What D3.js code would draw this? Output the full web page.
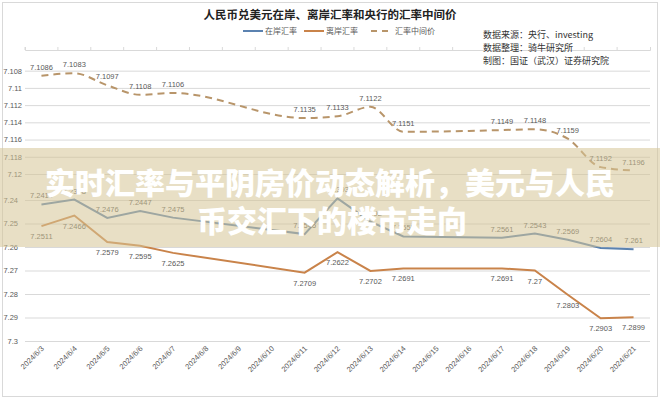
<!DOCTYPE html>
<html>
<head>
<meta charset="utf-8">
<script src="https://cdn.jsdelivr.net/npm/d3@7"></script>
<style>
  body { margin: 0; background: #fff; }
  svg { display: block; font-family: "Liberation Sans", Arial, sans-serif; }
  .cjk { font-family: "Noto Sans CJK SC", sans-serif; }
</style>
</head>
<body>
<div id="chart"></div>
<script>
// data
const dates = ['2024/6/3', '2024/6/4', '2024/6/5', '2024/6/6', '2024/6/7', '2024/6/8', '2024/6/9',
  '2024/6/10', '2024/6/11', '2024/6/12', '2024/6/13', '2024/6/14', '2024/6/15', '2024/6/16',
  '2024/6/17', '2024/6/18', '2024/6/19', '2024/6/20', '2024/6/21'];
const onshore = [7.2419, 7.2398, 7.2476, 7.2447, 7.2475, null, null, null, 7.2545, 7.2393, 7.2492,
  7.2555, null, null, 7.2561, 7.2543, 7.2569, 7.2604, 7.261];
const offshore = [7.2511, 7.2466, 7.2579, 7.2595, 7.2625, null, null, null, 7.2709, 7.2622, 7.2702,
  7.2691, null, null, 7.2691, 7.27, 7.2803, 7.2903, 7.2899];
const centralParity = [7.1086, 7.1083, 7.1097, 7.1108, 7.1106, null, null, null, 7.1135, 7.1133, 7.1122,
  7.1151, null, null, 7.1149, 7.1148, 7.1159, 7.1192, 7.1196];
const topTicks = [7.108, 7.11, 7.112, 7.114, 7.116, 7.118, 7.12];
const bottomTicks = [7.24, 7.25, 7.26, 7.27, 7.28, 7.29, 7.3];
const legendItems = ['在岸汇率', '离岸汇率', '汇率中间价'];
const notes = ['数据来源：央行、investing', '数据整理：骑牛研究所', '制图：国证（武汉）证券研究院'];
const title = '人民币兑美元在岸、离岸汇率和央行的汇率中间价';
const banner = ['实时汇率与平阴房价动态解析，美元与人民', '币交汇下的楼市走向'];

const width = 660, height = 399;
const colors = {onshore: '#5b82b0', offshore: '#c9834a', parity: '#b8956a'};
const textColor = '#595959';

const svg = d3.select('#chart').append('svg')
  .attr('width', width)
  .attr('height', height);

svg.append('rect')
  .attr('x', 2.5).attr('y', 2.5)
  .attr('width', width - 5).attr('height', height - 5)
  .attr('fill', 'none')
  .attr('stroke', '#d9d9d9');

const x = d3.scaleBand().domain(dates).range([25, 650]);
const cx = d => x(d) + x.bandwidth() / 2;

// two value panels, both reversed (values grow downwards)
const yTop = d3.scaleLinear().domain([7.1056, 7.12]).range([50, 174]);
const yBottom = d3.scaleLinear().domain([7.24, 7.30]).range([200, 341]);

function styleAxis(g) {
  g.select('.domain').remove();
  g.selectAll('.tick line').attr('stroke', '#d9d9d9');
  g.selectAll('.tick text').attr('fill', textColor).attr('font-size', 7.5);
}

svg.append('g')
  .attr('transform', 'translate(25,0)')
  .call(d3.axisLeft(yTop).tickValues(topTicks).tickSize(-625).tickPadding(3).tickFormat(d => String(d)))
  .call(styleAxis);

svg.append('g')
  .attr('transform', 'translate(25,0)')
  .call(d3.axisLeft(yBottom).tickValues(bottomTicks).tickSize(-625).tickPadding(7).tickFormat(d => String(d)))
  .call(styleAxis);

// category axis of the upper panel sits on top
const topAxis = svg.append('g')
  .attr('transform', `translate(0,${yTop(7.1056)})`)
  .call(d3.axisTop(x).tickSize(3).tickFormat(''));
topAxis.select('.domain').attr('stroke', '#d9d9d9');
topAxis.selectAll('.tick line').attr('stroke', '#d9d9d9')
  .attr('transform', `translate(${-x.bandwidth() / 2},0)`);

const xAxis = svg.append('g')
  .attr('transform', `translate(0,${yBottom(7.3)})`)
  .call(d3.axisBottom(x).tickSize(0).tickPadding(0));
xAxis.select('.domain').remove();
xAxis.selectAll('.tick text')
  .attr('fill', textColor)
  .attr('font-size', 7.5)
  .attr('text-anchor', 'end')
  .attr('dy', 0)
  .attr('transform', 'translate(3,8) rotate(-45)');

function drawSeries(values, y, color, dashed, labelBelow, curve) {
  const pts = values.map((v, i) => ({d: dates[i], v})).filter(p => p.v !== null);
  const line = d3.line().x(p => cx(p.d)).y(p => y(p.v)).curve(curve);
  svg.append('path')
    .datum(pts)
    .attr('d', line)
    .attr('fill', 'none')
    .attr('stroke', color)
    .attr('stroke-width', 2)
    .attr('stroke-dasharray', dashed ? '7,5' : null);
  svg.append('g').selectAll('text')
    .data(pts)
    .join('text')
    .attr('x', p => cx(p.d))
    .attr('y', p => y(p.v) + (labelBelow ? 13 : -6))
    .attr('text-anchor', 'middle')
    .attr('font-size', 7.5)
    .attr('fill', textColor)
    .text(p => String(p.v));
}

drawSeries(centralParity, yTop, colors.parity, true, false, d3.curveMonotoneX);
drawSeries(onshore, yBottom, colors.onshore, false, false, d3.curveLinear);
drawSeries(offshore, yBottom, colors.offshore, false, true, d3.curveLinear);

svg.append('text')
  .attr('class', 'cjk')
  .attr('x', 330).attr('y', 19)
  .attr('text-anchor', 'middle')
  .attr('font-size', 11.5)
  .attr('font-weight', 'bold')
  .attr('fill', '#222')
  .text(title);

// legend
const legendX = [243, 304, 371];
const legendColors = [colors.onshore, colors.offshore, colors.parity];
const legend = svg.append('g').selectAll('g')
  .data(legendItems)
  .join('g')
  .attr('transform', (d, i) => `translate(${legendX[i]},31)`);
legend.append('line')
  .attr('x1', 0).attr('x2', 20)
  .attr('stroke', (d, i) => legendColors[i])
  .attr('stroke-width', 2)
  .attr('stroke-dasharray', (d, i) => i === 2 ? '6,5' : null);
legend.append('text')
  .attr('class', 'cjk')
  .attr('x', (d, i) => i === 2 ? 24 : 22)
  .attr('y', 3)
  .attr('font-size', 8)
  .attr('fill', textColor)
  .text(d => d);

svg.append('g').selectAll('text')
  .data(notes)
  .join('text')
  .attr('class', 'cjk')
  .attr('x', 483)
  .attr('y', (d, i) => 38 + i * 13)
  .attr('font-size', 9)
  .attr('fill', '#333')
  .text(d => d);

// translucent headline band on top of the chart
svg.append('rect')
  .attr('x', 0).attr('y', 148)
  .attr('width', width).attr('height', 99)
  .attr('fill', 'rgb(214,196,150)')
  .attr('opacity', 0.55);

svg.append('g').selectAll('text')
  .data(banner)
  .join('text')
  .attr('class', 'cjk')
  .attr('x', (d, i) => i === 0 ? 330 : 332)
  .attr('y', (d, i) => 181 + i * 38)
  .attr('dominant-baseline', 'central')
  .attr('text-anchor', 'middle')
  .attr('font-size', 30)
  .attr('font-weight', 900)
  .attr('fill', '#fff')
  .text(d => d);
</script>
</body>
</html>
